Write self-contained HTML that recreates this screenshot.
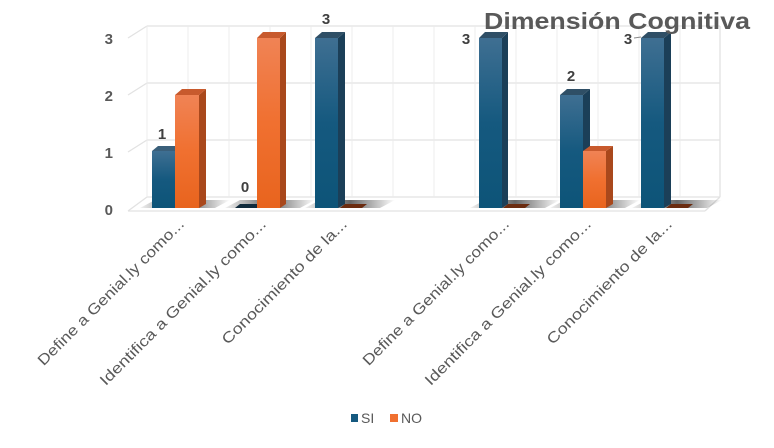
<!DOCTYPE html>
<html><head><meta charset="utf-8"><style>
body{margin:0;background:#fff}
svg{display:block}
text{font-family:"Liberation Sans",sans-serif}
</style></head><body>
<svg width="774" height="448" viewBox="0 0 774 448" xmlns="http://www.w3.org/2000/svg">
<defs>
<linearGradient id="b" x1="0" y1="0" x2="0" y2="1"><stop offset="0" stop-color="#3f6f92"/><stop offset="0.5" stop-color="#15597f"/><stop offset="1" stop-color="#0d5478"/></linearGradient>
<linearGradient id="o" x1="0" y1="0" x2="0" y2="1"><stop offset="0" stop-color="#f08355"/><stop offset="0.5" stop-color="#f07030"/><stop offset="1" stop-color="#e8641e"/></linearGradient>
<linearGradient id="sh" x1="0" y1="0" x2="1" y2="0"><stop offset="0" stop-color="#000" stop-opacity="0.05"/><stop offset="0.5" stop-color="#000" stop-opacity="0.6"/><stop offset="1" stop-color="#000" stop-opacity="0"/></linearGradient>
</defs>
<g stroke="#e2e2e2" stroke-width="1.3" fill="none">
<line x1="147" y1="26" x2="720" y2="26"/>
<line x1="147" y1="83" x2="720" y2="83"/>
<line x1="147" y1="140" x2="720" y2="140"/>
<line x1="147" y1="197" x2="720" y2="197"/>
<line x1="128" y1="38" x2="147" y2="26"/>
<line x1="128" y1="95" x2="147" y2="83"/>
<line x1="128" y1="152" x2="147" y2="140"/>
<line x1="128" y1="211" x2="147" y2="197"/>
<line x1="128" y1="211" x2="705" y2="211"/>
<line x1="705" y1="211" x2="720" y2="197"/>
<line x1="720" y1="26" x2="720" y2="197"/>
</g>
<g stroke="#ececec" stroke-width="1">
<line x1="147" y1="26" x2="147" y2="197"/><line x1="188" y1="26" x2="188" y2="197"/><line x1="229" y1="26" x2="229" y2="197"/><line x1="270" y1="26" x2="270" y2="197"/><line x1="311" y1="26" x2="311" y2="197"/><line x1="352" y1="26" x2="352" y2="197"/><line x1="393" y1="26" x2="393" y2="197"/><line x1="434" y1="26" x2="434" y2="197"/><line x1="475" y1="26" x2="475" y2="197"/><line x1="516" y1="26" x2="516" y2="197"/><line x1="557" y1="26" x2="557" y2="197"/><line x1="598" y1="26" x2="598" y2="197"/><line x1="639" y1="26" x2="639" y2="197"/><line x1="680" y1="26" x2="680" y2="197"/>
</g>
<g font-size="15" font-weight="bold" fill="#595959" text-anchor="end">
<text x="113" y="44">3</text><text x="113" y="101">2</text><text x="113" y="158">1</text><text x="113" y="215">0</text>
</g>
<g fill="url(#sh)">
<polygon points="140,208 215,208 230,200 155,200"/>
<polygon points="225,208 300,208 315,200 240,200"/>
<polygon points="305,208 380,208 395,200 320,200"/>
<polygon points="470,208 545,208 560,200 485,200"/>
<polygon points="550,208 625,208 640,200 565,200"/>
<polygon points="632,208 707,208 722,200 647,200"/>
</g>
<g>
<rect x="152" y="151" width="23" height="57" fill="url(#b)"/><polygon points="175,151 181,146 181,204 175,208" fill="#1b3f58"/><polygon points="152,151 158,146 181,146 175,151" fill="#3a5f7a"/>
<rect x="175" y="95" width="24" height="113" fill="url(#o)"/><polygon points="199,95 206,89 206,204 199,208" fill="#a9481c"/><polygon points="175,95 182,89 206,89 199,95" fill="#c85a2d"/>
<polygon points="235,208 257,208 262,204 240,204" fill="#102b3c"/>
<rect x="257" y="38" width="23" height="170" fill="url(#o)"/><polygon points="280,38 286,32 286,204 280,208" fill="#a9481c"/><polygon points="257,38 263,32 286,32 280,38" fill="#c85a2d"/>
<rect x="315" y="38" width="23" height="170" fill="url(#b)"/><polygon points="338,38 345,32 345,204 338,208" fill="#1b3f58"/><polygon points="315,38 322,32 345,32 338,38" fill="#2f4f66"/>
<polygon points="340,208 362,208 367,204 345,204" fill="#6b2c10"/>
<rect x="479" y="38" width="23" height="170" fill="url(#b)"/><polygon points="502,38 508,32 508,204 502,208" fill="#1b3f58"/><polygon points="479,38 485,32 508,32 502,38" fill="#2f4f66"/>
<polygon points="503,208 525,208 530,204 508,204" fill="#6b2c10"/>
<rect x="560" y="95" width="23" height="113" fill="url(#b)"/><polygon points="583,95 590,89 590,204 583,208" fill="#1b3f58"/><polygon points="560,95 567,89 590,89 583,95" fill="#2f4f66"/>
<rect x="583" y="151" width="23" height="57" fill="url(#o)"/><polygon points="606,151 613,146 613,204 606,208" fill="#a9481c"/><polygon points="583,151 590,146 613,146 606,151" fill="#c85a2d"/>
<rect x="641" y="38" width="23" height="170" fill="url(#b)"/><polygon points="664,38 671,32 671,204 664,208" fill="#1b3f58"/><polygon points="641,38 648,32 671,32 664,38" fill="#2f4f66"/>
<polygon points="666,208 688,208 693,204 671,204" fill="#6b2c10"/>
</g>
<g font-size="15" font-weight="bold" fill="#404040" text-anchor="middle">
<text x="162" y="139">1</text><text x="245" y="192">0</text><text x="326" y="24">3</text><text x="466" y="44">3</text><text x="571" y="81">2</text><text x="628" y="44">3</text>
</g>
<line x1="634" y1="38" x2="641" y2="37" stroke="#888" stroke-width="1"/>
<text x="484" y="29" font-size="23" font-weight="bold" fill="#595959" textLength="266" lengthAdjust="spacingAndGlyphs">Dimensión Cognitiva</text>
<g font-size="15" fill="#595959" text-anchor="end">
<text transform="translate(185,225) rotate(-45)" textLength="200" lengthAdjust="spacingAndGlyphs">Define a Genial.ly como...</text>
<text transform="translate(267,225) rotate(-45)" textLength="228" lengthAdjust="spacingAndGlyphs">Identifica a Genial.ly como...</text>
<text transform="translate(348,225) rotate(-45)" textLength="170" lengthAdjust="spacingAndGlyphs">Conocimiento de la...</text>
<text transform="translate(510,225) rotate(-45)" textLength="200" lengthAdjust="spacingAndGlyphs">Define a Genial.ly como...</text>
<text transform="translate(592,225) rotate(-45)" textLength="228" lengthAdjust="spacingAndGlyphs">Identifica a Genial.ly como...</text>
<text transform="translate(673,225) rotate(-45)" textLength="170" lengthAdjust="spacingAndGlyphs">Conocimiento de la...</text>
</g>
<rect x="351" y="414" width="7" height="8" fill="#15597f"/>
<text x="361" y="423" font-size="14" fill="#595959">SI</text>
<rect x="390" y="414" width="8" height="8" fill="#f07030"/>
<text x="401" y="423" font-size="14" fill="#595959">NO</text>
</svg>
</body></html>
